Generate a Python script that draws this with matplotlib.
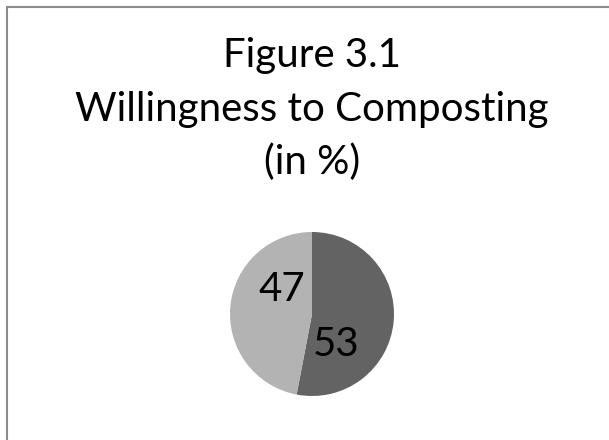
import matplotlib
matplotlib.use("Agg")
import matplotlib.pyplot as plt
import numpy as np
from matplotlib.patches import Rectangle

title_lines = ["Figure 3.1", "Willingness to Composting", "(in %)"]
categories = ["Yes", "No"]
values = [53, 47]
colors = ["#636363", "#b3b3b3"]

fig = plt.figure(figsize=(6.09, 4.40), dpi=100)
W, H = 609, 440

# outer border (cropped on right/bottom)
fig.patches.append(Rectangle((7 / W, -0.1), 1.2, (440 - 7) / H + 0.1,
                             transform=fig.transFigure, fill=False,
                             edgecolor="#8c8c8c", linewidth=1.5))

font = "Lato"
fig.text(312 / W, 1 - 56 / H, title_lines[0], ha="center", va="center", fontsize=29, family=font)
fig.text(312 / W, 1 - 110 / H, title_lines[1], ha="center", va="center", fontsize=29, family=font)
fig.text(312 / W, 1 - 162 / H, title_lines[2], ha="center", va="center", fontsize=29, family=font)

cx, cy, r = 312, 314, 82
ax = fig.add_axes([(cx - r) / W, 1 - (cy + r) / H, 2 * r / W, 2 * r / H])
wedges, _ = ax.pie(values, colors=colors, startangle=90, counterclock=False,
                   wedgeprops=dict(linewidth=0))
ax.set_xlim(-1, 1)
ax.set_ylim(-1, 1)
ax.set_aspect("auto")
ax.axis("off")

# labels placed inside each slice, shifted like the original's best-fit placement
shifts = [-46, -34]
for w, v, s in zip(wedges, values, shifts):
    mid = (w.theta1 + w.theta2) / 2 + s
    rr = 0.48
    ax.text(rr * np.cos(np.radians(mid)), rr * np.sin(np.radians(mid)), str(v),
            ha="center", va="center", fontsize=29, family=font)

fig.savefig("out.png", dpi=100)
